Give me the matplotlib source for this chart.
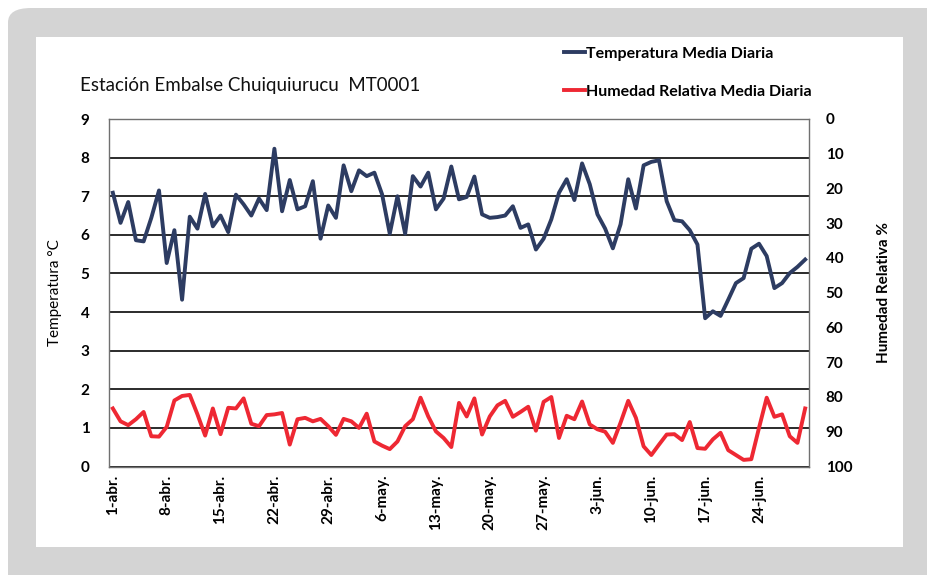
import matplotlib
matplotlib.use("Agg")
import matplotlib.pyplot as plt
from matplotlib.patches import FancyBboxPatch, Rectangle
import numpy as np

plt.rcParams["font.family"] = ["Lato", "DejaVu Sans"]

# daily values, 1-abr. to 30-jun.
temperatura = [
    7.09, 6.31, 6.85, 5.86, 5.83, 6.44, 7.15, 5.27, 6.12, 4.32,
    6.47, 6.16, 7.06, 6.22, 6.50, 6.07, 7.04, 6.79, 6.50, 6.94,
    6.64, 8.23, 6.61, 7.42, 6.66, 6.74, 7.39, 5.90, 6.76, 6.44,
    7.80, 7.13, 7.67, 7.52, 7.61, 7.05, 6.03, 7.00, 6.03, 7.52,
    7.25, 7.61, 6.66, 6.94, 7.77, 6.92, 6.98, 7.51, 6.53, 6.44,
    6.46, 6.50, 6.74, 6.18, 6.27, 5.62, 5.90, 6.40, 7.09, 7.44,
    6.90, 7.85, 7.31, 6.53, 6.16, 5.65, 6.27, 7.44, 6.68, 7.80,
    7.89, 7.93, 6.87, 6.38, 6.35, 6.12, 5.75, 3.84, 4.02, 3.90,
    4.32, 4.75, 4.88, 5.64, 5.77, 5.45, 4.62, 4.75, 5.01, 5.17,
    5.36,
]
humedad = [
    83.3, 87.0, 88.1, 86.4, 84.3, 91.3, 91.4, 88.6, 81.0, 79.7,
    79.4, 85.0, 91.1, 83.3, 90.7, 83.1, 83.3, 80.4, 87.7, 88.4,
    85.2, 85.0, 84.6, 93.7, 86.4, 86.0, 87.0, 86.3, 88.4, 90.9,
    86.3, 87.0, 88.9, 84.8, 92.8, 94.0, 95.0, 92.8, 88.4, 86.4,
    80.2, 85.6, 89.9, 91.8, 94.4, 81.7, 85.6, 80.4, 90.8, 85.6,
    82.4, 81.1, 85.7, 84.3, 82.8, 89.7, 81.4, 80.0, 91.8, 85.4,
    86.4, 81.3, 87.9, 89.3, 90.0, 93.2, 87.4, 81.1, 86.0, 94.2,
    96.7, 93.7, 90.8, 90.7, 92.4, 87.2, 94.7, 94.9, 92.2, 90.3,
    95.3, 96.7, 98.1, 97.9, 88.9, 80.2, 85.7, 85.0, 91.3, 93.2,
    83.3,
]
etiquetas = ["1-abr.", "8-abr.", "15-abr.", "22-abr.", "29-abr.", "6-may.",
             "13-may.", "20-may.", "27-may.", "3-jun.", "10-jun.", "17-jun.",
             "24-jun."]

W, H = 928, 575
fig = plt.figure(figsize=(W / 100, H / 100), dpi=100)
fig.patch.set_facecolor("white")

# grey frame (runs off the right and bottom edges) and white panel
fig.patches.append(FancyBboxPatch((8 / W, -30 / H), 960 / W, 597 / H,
                                  boxstyle="round,pad=0,rounding_size=0.025",
                                  transform=fig.transFigure, facecolor="#d4d4d4",
                                  edgecolor="none", zorder=0))
fig.patches.append(Rectangle((36 / W, 1 - 547 / H), 867 / W, 510 / H,
                             transform=fig.transFigure, facecolor="white",
                             edgecolor="none", zorder=1))

ax = fig.add_axes([109 / W, 1 - 466.5 / H, 700 / W, 347.5 / H])
ax.set_zorder(2)
ax.patch.set_alpha(0)
x = np.arange(len(temperatura))

ax.set_ylim(0, 9)
ax.set_xlim(-0.5, len(x) - 0.5)
ax.set_yticks(range(0, 10))
ax.grid(axis="y", color="#1a1a1a", lw=1.3)
ax.set_axisbelow(True)
for s in ax.spines.values():
    s.set_color("#707070")
    s.set_linewidth(1)
ax.tick_params(length=0, labelsize=11)
for lab in ax.get_yticklabels():
    lab.set_fontweight("bold")
ax.tick_params(axis="y", pad=14)
ax.set_xticks(x[::7])
ax.set_xticklabels(etiquetas, rotation=90, fontweight="bold", fontsize=11)
ax.tick_params(axis="x", pad=6)
ax.set_ylabel("Temperatura °C", fontsize=11, labelpad=13)

ax2 = ax.twinx()
ax2.set_ylim(100, 0)
ax2.set_yticks(range(0, 101, 10))
ax2.tick_params(length=0, labelsize=11, pad=12)
for lab in ax2.get_yticklabels():
    lab.set_fontweight("bold")
for s in ax2.spines.values():
    s.set_visible(False)
ax2.set_ylabel("Humedad Relativa %", fontsize=11, fontweight="bold", labelpad=18)

l1, = ax.plot(x, temperatura, color="#2d3c62", lw=2.8, solid_joinstyle="round",
              label="Temperatura Media Diaria", zorder=3)
l2, = ax2.plot(x, humedad, color="#ee2833", lw=2.8, solid_joinstyle="round",
               label="Humedad Relativa Media Diaria", zorder=3)

fig.legend(handles=[l1, l2], loc="upper left", bbox_to_anchor=(550 / W, 1 - 32 / H),
           frameon=False, prop={"weight": "bold", "size": 11.5},
           handlelength=1.3, handletextpad=0.05, labelspacing=1.5)

fig.text(80 / W, 1 - 85 / H, "Estación Embalse Chuiquiurucu  MT0001",
         fontsize=13.5, va="center", ha="left", color="#111111")

fig.savefig("out.png", dpi=100)
